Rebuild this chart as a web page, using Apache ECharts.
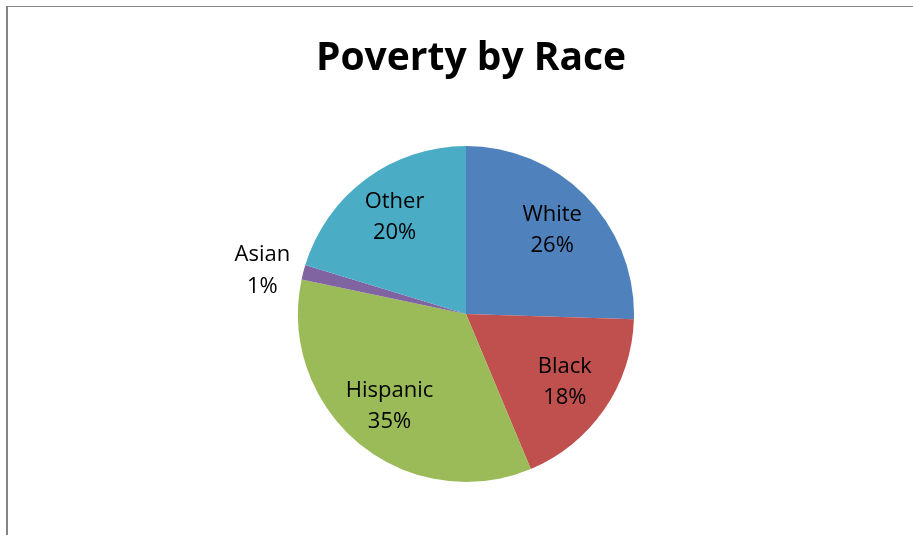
<!DOCTYPE html>
<html>
<head>
<meta charset="utf-8">
<script src="https://cdn.jsdelivr.net/npm/echarts@6/dist/echarts.min.js"></script>
<style>
  html, body { margin: 0; padding: 0; background: #fff; }
  #main { width: 913px; height: 535px; }
  .frame {
    position: absolute; left: 6px; top: 6px; right: 0; bottom: 0;
    border-top: 1px solid #868686; border-left: 2px solid #868686;
    pointer-events: none;
  }
</style>
</head>
<body>
<div id="main"></div>
<div class="frame"></div>
<script>
var categories = ['White', 'Black', 'Hispanic', 'Asian', 'Other']
var shares = [25.5, 18.2, 34.6, 1.4, 20.3]
var colors = ['#4F81BD', '#C0504D', '#9BBB59', '#8064A2', '#4BACC6']

var font = '"Open Sans", sans-serif'
var pieData = categories.map(function (c, i) {
  return { name: c, value: shares[i], itemStyle: { color: colors[i] } }
})
// transparent copy only for placing the labels further out than the default
var labelData = categories.map(function (c, i) {
  var d = { name: c, value: shares[i], itemStyle: { color: 'transparent' } }
  if (c === 'Asian') {
    d.label = {
      position: 'outside',
      formatter: '{c|{b}}\n{c|{d}%}',
      rich: { c: { width: 64, align: 'center', fontFamily: font, fontSize: 22, lineHeight: 32 } }
    }
  }
  return d
})

var myChart = echarts.init(document.getElementById('main'))
myChart.setOption({
  animation: false,
  title: {
    text: 'Poverty by Race',
    left: 466,
    textAlign: 'center',
    top: 34,
    textStyle: { fontFamily: font, fontWeight: 'bold', fontSize: 39, color: '#000' }
  },
  series: [
    {
      type: 'pie',
      center: [466, 314],
      radius: 168,
      startAngle: 90,
      clockwise: true,
      label: { show: false },
      labelLine: { show: false },
      silent: true,
      data: pieData
    },
    {
      type: 'pie',
      center: [466, 314],
      radius: [66, 168],
      startAngle: 90,
      clockwise: true,
      silent: true,
      percentPrecision: 0,
      label: {
        show: true,
        position: 'inside',
        formatter: '{b}\n{d}%',
        fontFamily: font,
        fontSize: 22,
        lineHeight: 31,
        color: '#000'
      },
      labelLine: { show: false, length: 4, length2: 0 },
      data: labelData
    }
  ]
})
</script>
</body>
</html>
